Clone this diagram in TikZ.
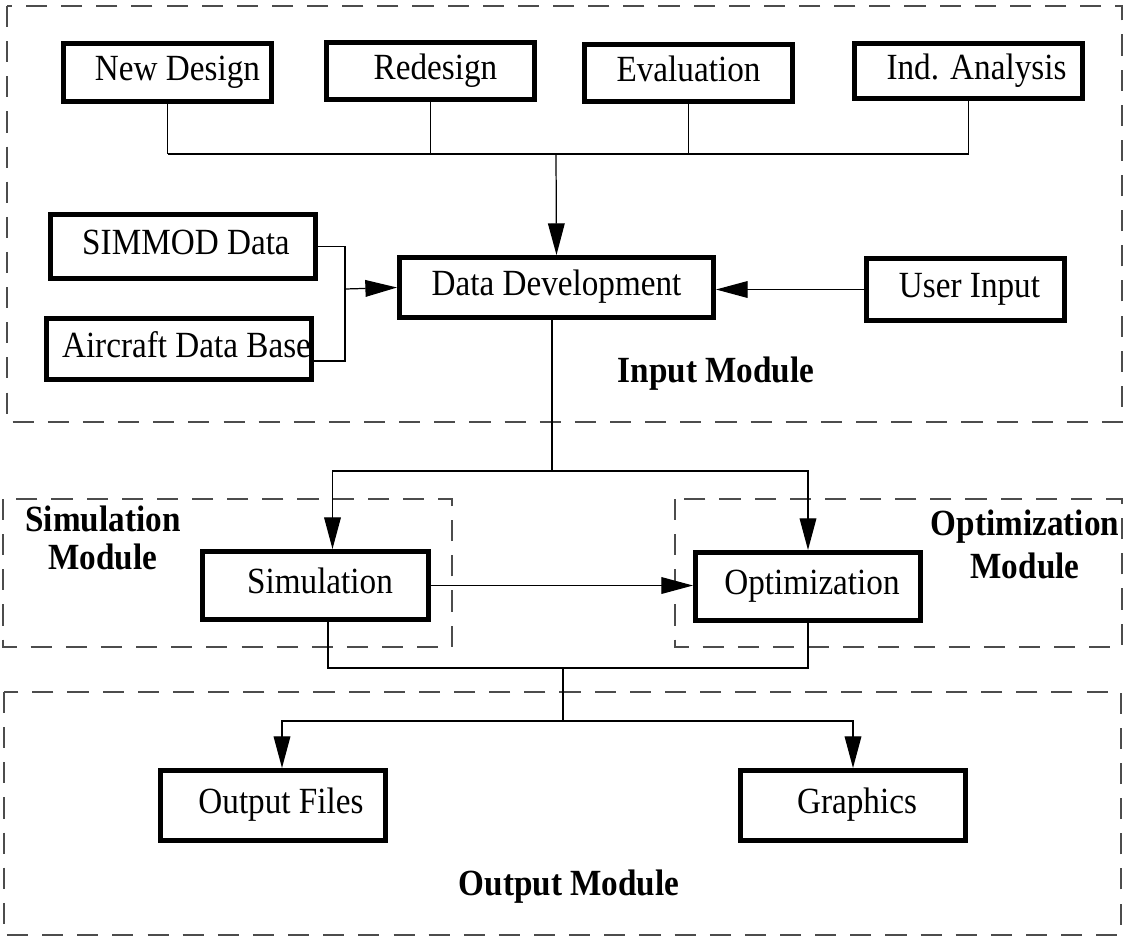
\documentclass[tikz,border=0pt]{standalone}
\usepackage{fontspec}
\setmainfont{Liberation Serif}[FakeStretch=0.9]
\usetikzlibrary{arrows.meta,positioning}

\begin{document}
\begin{tikzpicture}[x=0.02cm, y=-0.02cm,
    block/.style={draw, line width=2.6pt, inner sep=0pt, text height=13pt, text depth=3.4pt,
                  font=\fontsize{21}{23}\selectfont},
    pushed/.style={execute at begin node={\hspace*{#1}}},
    module/.style={draw=black!70, line width=0.7pt, dash pattern=on 12pt off 8pt},
    title/.style={font=\fontsize{21}{21.5}\selectfont\bfseries, align=center},
    wire/.style={line width=0.7pt},
    arr/.style={wire, -{Triangle[length=18pt,width=9.5pt]}}]

\useasboundingbox (0,0) rectangle (1126,938);

% dashed module frames
\draw[module] (7,6)   rectangle (1122,422);
\draw[module] (3,499) rectangle (452,647);
\draw[module] (675,499) rectangle (1122,647);
\draw[module] (4,692) rectangle (1121,935);

% top row: kinds of study
\node[block, pushed=0.4cm,  minimum width=4.17cm, minimum height=1.17cm] (newdesign)   at (167.5,72.5) {New Design};
\node[block, pushed=0.2cm,  minimum width=4.17cm, minimum height=1.15cm] (redesign)    at (430.5,71)   {Redesign};
\node[block,                minimum width=4.17cm, minimum height=1.15cm] (evaluation)  at (688.5,73)   {Evaluation};
\node[block, pushed=0.32cm, minimum width=4.57cm, minimum height=1.11cm] (indanalysis) at (968.5,71)   {Ind. Analysis};

% data sources
\node[block, pushed=0.12cm, minimum width=5.31cm, minimum height=1.29cm] (simmod)    at (183,246.5)   {SIMMOD Data};
\node[block, pushed=0.3cm,  minimum width=5.31cm, minimum height=1.23cm] (aircraft)  at (179,349)     {Aircraft Data Base};
\node[block,                minimum width=6.29cm, minimum height=1.21cm] (datadev)   at (556.5,287.5) {Data Development};
\node[block, pushed=0.16cm, minimum width=3.97cm, minimum height=1.25cm] (userinput) at (965.5,289.5) {User Input};

% simulation and optimization
\node[block, pushed=0.18cm, minimum width=4.53cm, minimum height=1.37cm] (simulation)   at (315.5,585.5) {Simulation};
\node[block, pushed=0.16cm, minimum width=4.51cm, minimum height=1.37cm] (optimization) at (808,586.5)   {Optimization};

% outputs
\node[block, pushed=0.32cm, minimum width=4.51cm, minimum height=1.41cm] (outputfiles) at (273,805.5) {Output Files};
\node[block, pushed=0.16cm, minimum width=4.51cm, minimum height=1.41cm] (graphics)    at (853,805.5) {Graphics};

% module titles
\node[title, anchor=base] (inputtitle)  at (716,382)  {Input Module};
\node[title]              (simtitle)    at (103,538)  {Simulation\\Module};
\node[title]              (opttitle)    at (1025,544) {Optimization\\[3pt]Module};
\node[title, anchor=base] (outputtitle) at (569,895)  {Output Module};

% study kinds merge into data development
\coordinate (topbus) at (556,154);
\foreach \src in {newdesign, redesign, evaluation, indanalysis} {
  \draw[wire] (\src.south) -- (\src.south |- topbus);
}
\draw[wire] (newdesign.south |- topbus) -- (indanalysis.south |- topbus);
\draw[arr] (topbus) -- (datadev.north);

% data bases bracket
\coordinate (srcjoin) at (345,289);
\coordinate (srcbot)  at (345,361);
\draw[wire] (simmod.east) -| (srcbot) -- (srcbot -| aircraft.east);
\draw[arr] (srcjoin) -- (datadev.west);
\draw[arr] (userinput.west) -- (userinput.west -| datadev.east);

% split to simulation and optimization
\coordinate (midbus) at (552,471);
\draw[wire] (midbus |- datadev.south) -- (midbus);
\draw[arr] (midbus) -| ([xshift=0.34cm]simulation.north);
\draw[arr] (midbus) -| (optimization.north);
\draw[arr] (simulation.east) -- (simulation.east -| optimization.west);

% merge to outputs
\coordinate (lowbus) at (563,668);
\coordinate (outbus) at (563,721);
\draw[wire] ([xshift=0.25cm]simulation.south) |- (optimization.south |- lowbus) -- (optimization.south);
\draw[wire] (lowbus) -- (outbus);
\draw[arr] (outbus) -| ([xshift=0.18cm]outputfiles.north);
\draw[arr] (outbus) -| (graphics.north);

\end{tikzpicture}
\end{document}
